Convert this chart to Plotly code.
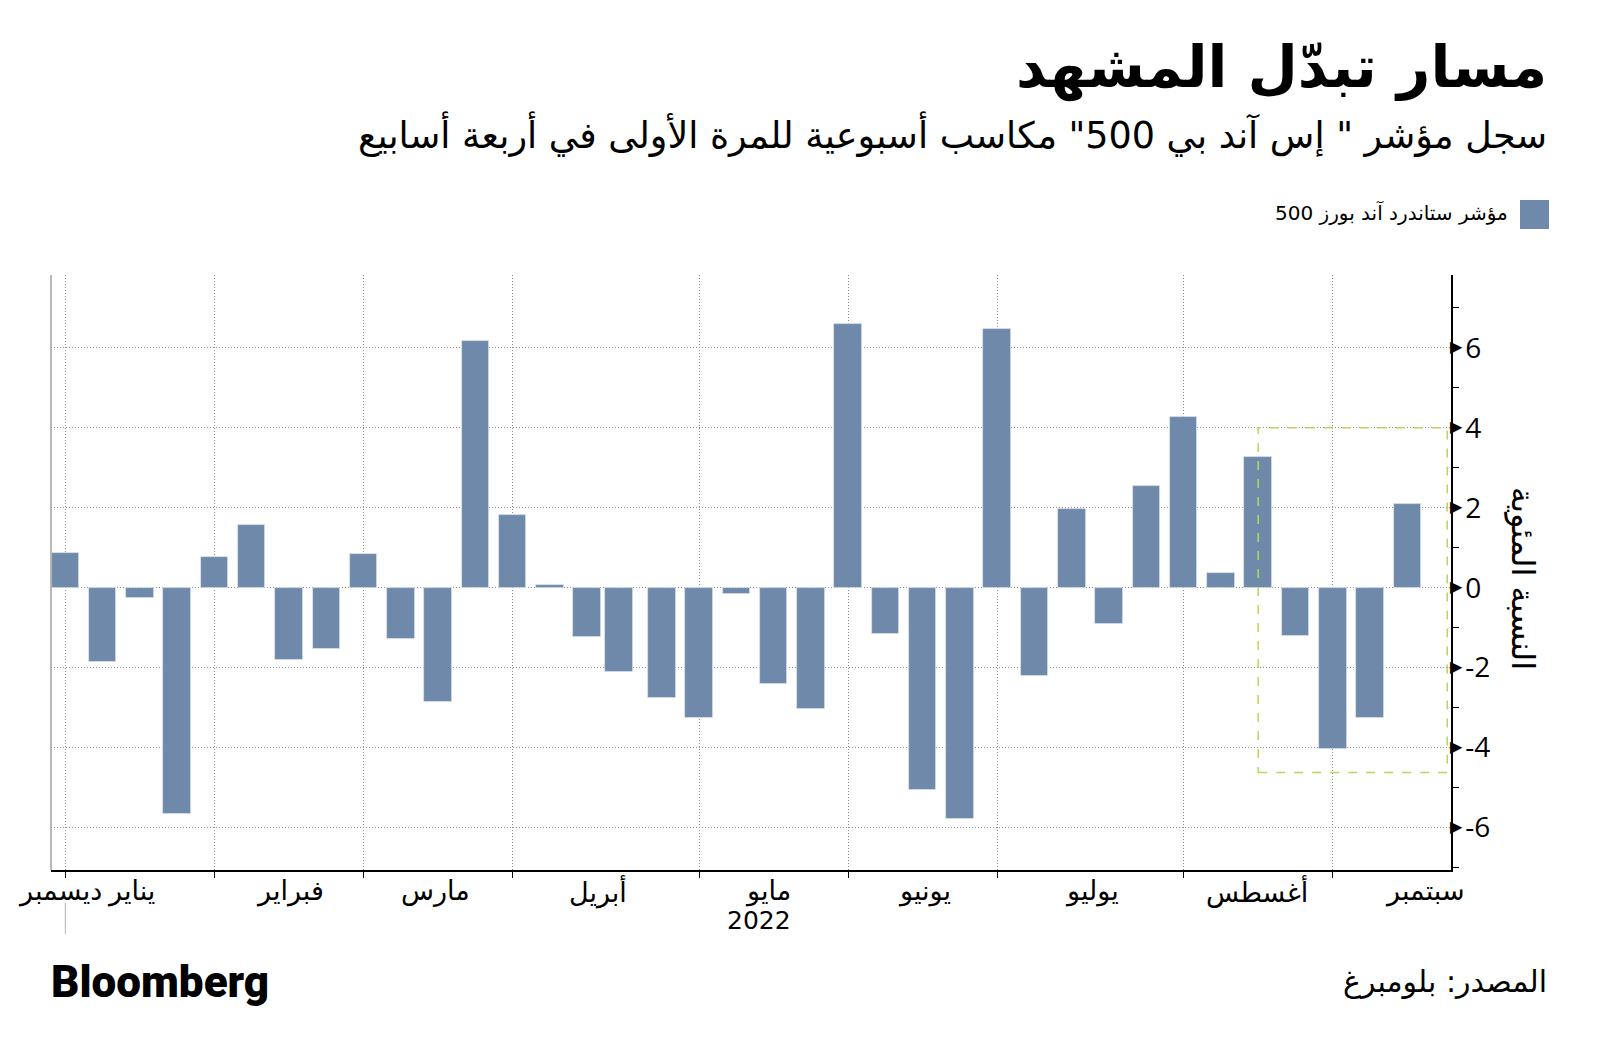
import plotly.graph_objects as go
import pandas as pd

# ---------------- data ----------------
week_dates = [
    "2021-12-31", "2022-01-07", "2022-01-14", "2022-01-21", "2022-01-28",
    "2022-02-04", "2022-02-11", "2022-02-18", "2022-02-25", "2022-03-04",
    "2022-03-11", "2022-03-18", "2022-03-25", "2022-04-01", "2022-04-08",
    "2022-04-14", "2022-04-22", "2022-04-29", "2022-05-06", "2022-05-13",
    "2022-05-20", "2022-05-27", "2022-06-03", "2022-06-10", "2022-06-17",
    "2022-06-24", "2022-07-01", "2022-07-08", "2022-07-15", "2022-07-22",
    "2022-07-29", "2022-08-05", "2022-08-12", "2022-08-19", "2022-08-26",
    "2022-09-02", "2022-09-09",
]
weekly_change = [
    0.87, -1.87, -0.27, -5.66, 0.78,
    1.56, -1.81, -1.53, 0.84, -1.28,
    -2.87, 6.17, 1.81, 0.06, -1.23,
    -2.12, -2.76, -3.27, -0.16, -2.40,
    -3.04, 6.60, -1.17, -5.05, -5.79,
    6.48, -2.22, 1.96, -0.92, 2.55,
    4.26, 0.38, 3.27, -1.20, -4.03,
    -3.27, 2.09,
]
month_grid_dates = ["2021-12-31", "2022-01-28", "2022-02-25", "2022-03-25",
                    "2022-04-29", "2022-05-27", "2022-06-24", "2022-07-29",
                    "2022-08-26"]
month_labels = ["ديسمبر", "يناير", "فبراير", "مارس", "أبريل", "مايو",
                "يونيو", "يوليو", "أغسطس", "سبتمبر"]
year_label = "2022"
y_tick_vals = [-6, -4, -2, 0, 2, 4, 6]
y_tick_labels = [str(v) for v in y_tick_vals]
highlight_start = "2022-08-12"
highlight_end = "2022-09-16 12:00"
highlight_low, highlight_high = -4.62, 4.0

title = "مسار تبدّل المشهد"
subtitle = 'سجل مؤشر " إس آند بي 500" مكاسب أسبوعية للمرة الأولى في أربعة أسابيع'
series_name = "مؤشر ستاندرد آند بورز 500"
y_title = "النسبة المئوية"
source = "المصدر: بلومبرغ"

# ---------------- layout helpers ----------------
# page body has an 8px margin, so the figure is drawn 8px smaller
OFF = 8
W, H = 1600 - OFF, 1062 - OFF
L, R, T, B = 51, 1451, 275, 870   # plot area in page coordinates


def px(x):
    return (x - L) / (R - L)


def py(y):
    return (B - y) / (B - T)


AR = "DejaVu Sans"
BAR_COLOR = "#6f89ab"
GRID = "#8c8c8c"

fig = go.Figure()
fig.add_trace(go.Bar(
    x=pd.to_datetime(week_dates), y=weekly_change, name=series_name,
    marker=dict(color=BAR_COLOR, line=dict(color="rgba(220,228,238,0.9)", width=0.8)),
    width=5.17 * 86400000, showlegend=False,
))

fig.update_layout(
    width=W, height=H,
    margin=dict(l=L - OFF, r=1600 - R, t=T - OFF, b=1062 - B),
    paper_bgcolor="white", plot_bgcolor="white",
    font=dict(family=AR, color="black"),
    bargap=0,
)
fig.update_xaxes(
    type="date",
    range=["2021-12-28 07:26", "2022-09-17 05:00"],
    tickvals=pd.to_datetime(month_grid_dates), ticktext=[""] * len(month_grid_dates),
    ticks="outside", ticklen=6, tickcolor="black",
    showgrid=True, gridcolor=GRID, griddash="1px,2px", gridwidth=1,
    showline=True, linecolor="black", linewidth=1.5,
    zeroline=False,
)
fig.update_yaxes(
    side="right", range=[-7.06, 7.82],
    tickvals=y_tick_vals, ticktext=y_tick_labels,
    ticks="", ticklen=0, ticklabelstandoff=7,
    tickfont=dict(family="Open Sans", size=28, color="black"),
    minor=dict(ticks="outside", ticklen=6, tick0=1, dtick=2, tickcolor="black", showgrid=False),
    showgrid=True, gridcolor=GRID, griddash="1px,2px", gridwidth=1,
    showline=True, linecolor="black", linewidth=1.5,
    zeroline=False,
)

shapes = []
# left frame line
shapes.append(dict(type="line", xref="paper", yref="paper", x0=0, x1=0, y0=0, y1=1,
                   line=dict(color="#a0a0a0", width=1.5)))
# year separator tick
shapes.append(dict(type="line", xref="x", yref="paper", x0=month_grid_dates[0], x1=month_grid_dates[0],
                   y0=py(903), y1=py(934), line=dict(color="#b0b0b0", width=1)))
# highlight box
shapes.append(dict(type="rect", xref="x", yref="y", x0=highlight_start, x1=highlight_end,
                   y0=highlight_low, y1=highlight_high,
                   line=dict(color="#b2da5a", width=1.5, dash="dash"), fillcolor="rgba(0,0,0,0)"))
# legend swatch
shapes.append(dict(type="rect", xref="paper", yref="paper", x0=px(1520), x1=px(1549),
                   y0=py(229), y1=py(200), line=dict(width=0), fillcolor=BAR_COLOR))
fig.update_layout(shapes=shapes)

ann = []


def add_text(text, x, y, size, xanchor="center", yanchor="middle", family=AR, weight=None, **kw):
    f = dict(family=family, size=size, color="black")
    if weight:
        f["weight"] = weight
    ann.append(dict(text=text, xref="paper", yref="paper", x=px(x), y=py(y),
                    xanchor=xanchor, yanchor=yanchor, showarrow=False, font=f, **kw))


add_text(title, 1549, 68, 58, xanchor="right", weight=700)
add_text(subtitle, 1549, 134, 36.5, xanchor="right")
add_text(series_name, 1510, 213, 20, xanchor="right")

label_x = [60, 131, 290, 435, 598, 768, 924, 1092, 1257, 1425]
for lab, lx in zip(month_labels, label_x):
    add_text(lab, lx, 891, 27)
add_text(year_label, 759, 920, 25)

# arrow markers on the value axis, one per tick value
for v in y_tick_vals:
    ann.append(dict(text="▶", xref="paper", yref="y", x=1, y=v, xanchor="left", yanchor="middle",
                    xshift=-3, yshift=1, showarrow=False,
                    font=dict(family="DejaVu Sans", size=16, color="black")))

ann.append(dict(text=y_title, xref="paper", yref="paper", x=px(1523), y=py(578),
                textangle=90, showarrow=False, xanchor="center", yanchor="middle",
                font=dict(family=AR, size=32, color="black")))

add_text("Bloomberg", 49, 982, 44, xanchor="left", family="Roboto", weight=900)
add_text(source, 1549, 981, 30, xanchor="right")

fig.update_layout(annotations=ann)
fig.write_html("out.html")
